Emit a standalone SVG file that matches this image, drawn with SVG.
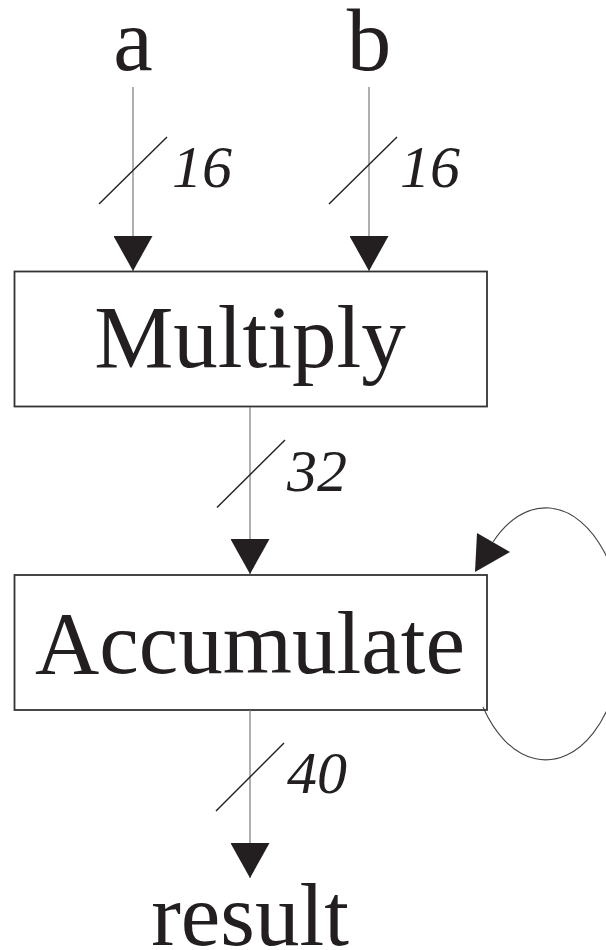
<svg xmlns="http://www.w3.org/2000/svg" width="606" height="950" viewBox="0 0 606 950">
  <style>
    .box { fill: #ffffff; stroke: #333333; stroke-width: 1.8; }
    .big { font-family: "Liberation Serif", "Times New Roman", serif; font-size: 89px; fill: #231f20; text-anchor: middle; }
    .width { font-family: "Liberation Serif", "Times New Roman", serif; font-size: 60px; font-style: italic; fill: #231f20; }
    .wire { fill: none; stroke: #7a7a7a; stroke-width: 1.2; }
    .slash { fill: none; stroke: #231f20; stroke-width: 1.4; }
    .loop { fill: none; stroke: #444444; stroke-width: 1.1; }
    .head { fill: #231f20; }
  </style>
  <defs>
    <marker id="arrow" markerUnits="userSpaceOnUse" markerWidth="35" markerHeight="39" refX="35" refY="19.5" orient="auto" viewBox="0 0 35 39">
      <path class="head" d="M0,0 L35,19.5 L0,39 z"/>
    </marker>
  </defs>

  <rect width="606" height="950" fill="#ffffff"/>

  <!-- inputs and output names -->
  <g id="input-a"><text class="big" x="133" y="70">a</text></g>
  <g id="input-b"><text class="big" x="369" y="70">b</text></g>
  <g id="output-result"><text class="big" x="250" y="945">result</text></g>

  <!-- processing blocks -->
  <g id="multiply">
    <rect class="box" x="14.5" y="271.5" width="472.5" height="135"/>
    <text class="big" x="250" y="367">Multiply</text>
  </g>
  <g id="accumulate">
    <rect class="box" x="14.5" y="575" width="472.5" height="135"/>
    <text class="big" x="250" y="673">Accumulate</text>
  </g>

  <!-- buses with bit widths -->
  <g id="connectors">
    <line class="wire" x1="133" y1="87" x2="133" y2="271" marker-end="url(#arrow)"/>
    <line class="slash" x1="99" y1="204" x2="167" y2="137"/>
    <text class="width" x="172" y="187">16</text>

    <line class="wire" x1="369" y1="87" x2="369" y2="271" marker-end="url(#arrow)"/>
    <line class="slash" x1="329" y1="204" x2="397" y2="137"/>
    <text class="width" x="400" y="187">16</text>

    <line class="wire" x1="250" y1="407" x2="250" y2="574" marker-end="url(#arrow)"/>
    <line class="slash" x1="217" y1="507.5" x2="285" y2="440"/>
    <text class="width" x="287" y="491">32</text>

    <line class="wire" x1="250" y1="710" x2="250" y2="878" marker-end="url(#arrow)"/>
    <line class="slash" x1="216" y1="811" x2="284" y2="743"/>
    <text class="width" x="287" y="793">40</text>

    <!-- feedback loop on the accumulator -->
    <path class="loop" d="M483,707 A77,126 0 1 0 493,542"/>
    <polygon class="head" points="475,572 477,533 510,552"/>
  </g>
</svg>
